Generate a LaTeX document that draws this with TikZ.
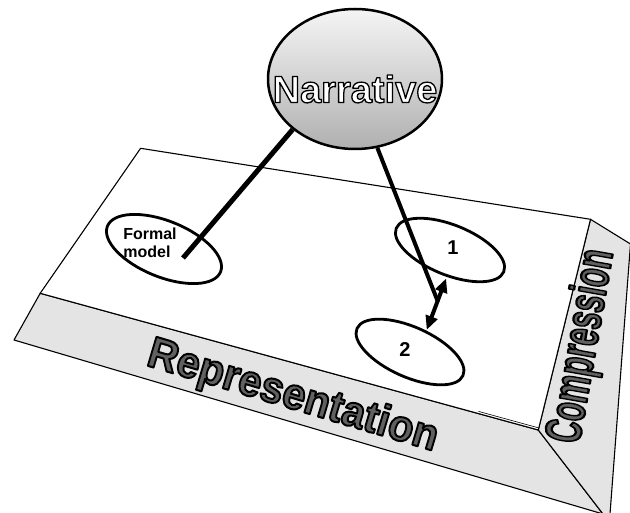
\documentclass[tikz,border=0pt]{standalone}
\usepackage{fontspec}
\setmainfont{Liberation Sans}
\usetikzlibrary{shapes.geometric,arrows.meta,calc}
\pgfdeclarelayer{back}
\pgfdeclarelayer{mid}
\pgfsetlayers{back,mid,main}
\definecolor{facegray}{HTML}{E4E4E4}
\definecolor{txtgray}{HTML}{606060}
% outlined text: fill colour #1, stroke width #2 (black stroke), text #3
\newcommand{\olt}[3]{{\color{#1}\special{pdf:literal direct 0 0 0 RG #2 w 1 j 2 Tr}#3\special{pdf:literal direct 0 Tr}}}
\begin{document}
\begin{tikzpicture}[x=1pt,y=-1pt,
  edge/.style={draw=black, line width=1.1pt, line join=round},
  face/.style={edge, fill=facegray},
  oval/.style={ellipse, draw=black, line width=2.8pt, fill=white, inner sep=0pt},
  link/.style={draw=black, line width=4.5pt},
  lbl/.style={font=\bfseries\fontsize{16}{18}\selectfont, align=left, inner sep=0pt},
  num/.style={font=\bfseries\fontsize{20}{20}\selectfont, inner sep=0pt},
  bigword/.style={font=\bfseries\fontsize{#1}{#1}\selectfont, inner sep=0pt},
]
\useasboundingbox (0,0) rectangle (630,513);

% platform corners
\coordinate (tl) at (140.6,148.3);
\coordinate (tr) at (590.5,219.3);
\coordinate (bl) at (40.2,293.3);
\coordinate (br) at (538.3,430);
\coordinate (fbl) at (14,340);
\coordinate (tip) at (603,514);
\coordinate (str) at (630.5,244);
\coordinate (srb) at (610,514);

% Narrative circle (main layer, drawn over connectors)
\node[ellipse, draw=black, line width=2.5pt, minimum width=174pt, minimum height=140pt,
      top color=gray!8, bottom color=gray!62, inner sep=0pt] (narr) at (355,79) {};
\node[bigword=38] (narrtxt) at (355,89) {\olt{white}{1.3}{Narrative}};

\begin{pgfonlayer}{back}
  \draw[face] (bl) -- (br) -- (tip) -- (fbl) -- cycle;
  \draw[face] (tr) -- (str) -- (srb) -- (tip) -- (br) -- cycle;
  \draw[edge, fill=white] (tl) -- (tr) -- (br) -- (bl) -- cycle;
  \draw[edge, line width=0.6pt] ($(br)!0.12!(bl)+(0,-2.2)$) -- ($(br)+(0,-2.2)$);

  \node[oval, minimum width=122pt, minimum height=56pt, rotate=-22] (fm) at (164,249) {};
  \node[lbl] (fmtext) at (150,243) {Formal\\model};
  \node[oval, minimum width=116pt, minimum height=50pt, rotate=-22] (e1) at (450,250) {};
  \node[num] (e1text) at (453,248) {1};
  \node[oval, minimum width=116pt, minimum height=50pt, rotate=-24] (e2) at (410,352) {};
  \node[num] (e2text) at (405,350) {2};

  \node[bigword=44, anchor=base west, rotate=-16.6, xscale=0.94] (reptxt) at (145,365)
     {\olt{txtgray}{2.0}{Representation}};
  \node[bigword=51, anchor=base west, rotate=80, xscale=0.6] (comptxt) at (579,445)
     {\olt{txtgray}{2.3}{Compression}};
\end{pgfonlayer}

\begin{pgfonlayer}{mid}
  \coordinate (fmend) at (183,258);
  \coordinate (n2end) at (438,302);
  \draw[link, line width=5pt] (narr.219) -- (fmend);
  \draw[link, line width=4pt] (narr.288) -- (n2end);
  \draw[draw=black, line width=4pt, {Triangle[length=14pt,width=12pt]}-{Triangle[length=14pt,width=12pt]}]
     ($(e1.south)+(6,4)$) -- ($(e2.north)+(6,2)$);
\end{pgfonlayer}
\end{tikzpicture}
\end{document}
